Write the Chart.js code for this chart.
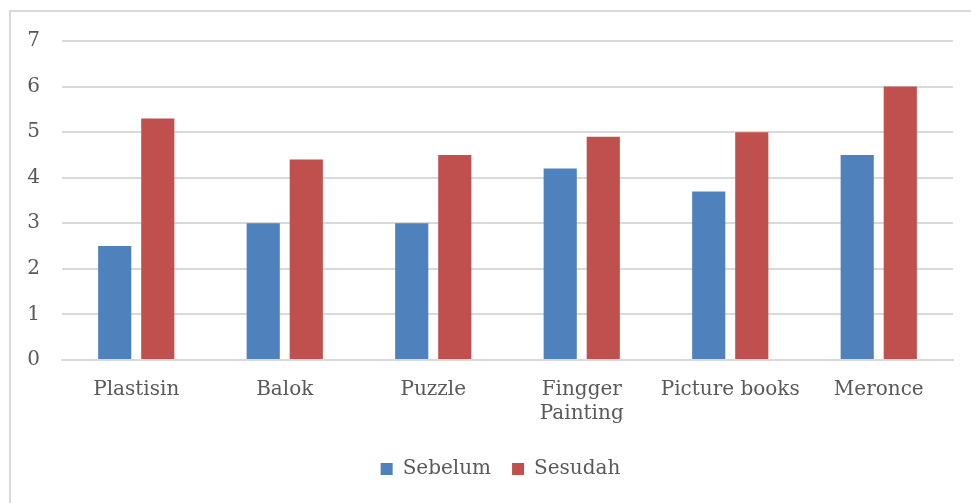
<!DOCTYPE html>
<html>
<head>
<meta charset="utf-8">
<script src="https://cdn.jsdelivr.net/npm/chart.js@4"></script>
<style>
html,body{margin:0;padding:0;background:#fff;}
#wrap{position:absolute;left:0;top:0;width:971px;height:503px;}
</style>
</head>
<body>
<div id="wrap"><canvas id="c" width="971" height="503"></canvas></div>
<script>
const categories = ['Plastisin', 'Balok', 'Puzzle', ['Fingger', 'Painting'], 'Picture books', 'Meronce'];
const sebelum = [2.5, 3, 3, 4.2, 3.7, 4.5];
const sesudah = [5.3, 4.4, 4.5, 4.9, 5, 6];
const yTicks = [0, 1, 2, 3, 4, 5, 6, 7];

const FONT = 'DejaVu Serif';
const TXT = '#595959';

const borderPlugin = {
  id: 'outerBorder',
  beforeDraw(chart) {
    const ctx = chart.ctx;
    ctx.save();
    ctx.strokeStyle = '#d9d9d9';
    ctx.lineWidth = 2;
    ctx.strokeRect(10, 11, 1000, 1000);
    ctx.restore();
  },
  afterLayout(chart) {
    if (chart.legend) {
      chart.legend.left += 14;
      chart.legend.right += 14;
    }
  }
};

new Chart(document.getElementById('c'), {
  type: 'bar',
  data: {
    labels: categories,
    datasets: [
      { label: 'Sebelum', data: sebelum, backgroundColor: '#4F81BD', categoryPercentage: 0.58, barPercentage: 0.77 },
      { label: 'Sesudah', data: sesudah, backgroundColor: '#C0504D', categoryPercentage: 0.58, barPercentage: 0.77 }
    ]
  },
  options: {
    responsive: false,
    animation: false,
    devicePixelRatio: 1,
    layout: { padding: { left: 20, right: 18, top: 41, bottom: 14 } },
    plugins: {
      legend: {
        position: 'bottom',
        labels: {
          font: { family: FONT, size: 20 },
          color: TXT,
          boxWidth: 12,
          boxHeight: 12,
          padding: 21
        }
      },
      tooltip: { enabled: false }
    },
    scales: {
      x: {
        grid: { display: false, drawTicks: false },
        border: { display: true, color: '#d9d9d9', width: 2 },
        ticks: {
          font: { family: FONT, size: 20 },
          color: TXT,
          padding: 18,
          maxRotation: 0,
          autoSkip: false
        },
        afterFit(scale) { scale.height = 78; }
      },
      y: {
        min: 0,
        max: 7,
        afterBuildTicks(scale) { scale.ticks = yTicks.map(v => ({ value: v })); },
        grid: { color: '#d9d9d9', lineWidth: 2, drawTicks: false },
        border: { display: false },
        ticks: {
          font: { family: FONT, size: 20 },
          color: TXT,
          padding: 22
        },
        afterFit(scale) { scale.width = 42; }
      }
    }
  },
  plugins: [borderPlugin]
});
</script>
</body>
</html>
